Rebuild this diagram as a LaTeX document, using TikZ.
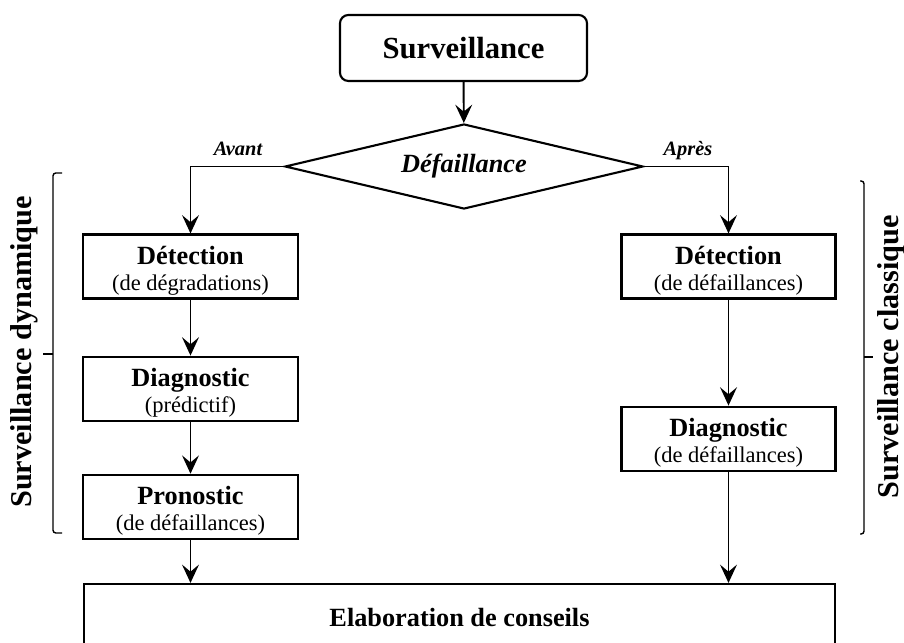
\documentclass[tikz,border=0pt]{standalone}
\usepackage{fontspec}
\setmainfont{Liberation Serif}
\usetikzlibrary{positioning,shapes.geometric,arrows.meta}

\newcommand{\headfont}{\fontsize{18.7pt}{18.5pt}\selectfont\bfseries}
\newcommand{\subfont}{\fontsize{16pt}{18.5pt}\selectfont}
\newcommand{\steptitle}[1]{{\headfont\rule{0pt}{19pt}#1}}

\tikzset{
  stepbox/.style={draw, line width=1.5pt, minimum width=5.375cm, minimum height=1.6cm,
    align=center, inner sep=2pt, font=\subfont},
  startbox/.style={draw, line width=1.5pt, rounded corners=6pt, minimum width=6.175cm,
    minimum height=1.65cm, font=\fontsize{21.8pt}{24pt}\selectfont\bfseries},
  endbox/.style={draw, line width=1.5pt, minimum width=18.775cm, minimum height=1.7cm,
    font=\headfont},
  decision/.style={diamond, draw, line width=1.5pt, aspect=4.2, inner sep=0pt,
    minimum width=8.95cm, minimum height=2.125cm,
    font=\fontsize{18.7pt}{20pt}\selectfont\bfseries\itshape},
  branch/.style={anchor=base, inner sep=0pt, font=\fontsize{14.5pt}{17pt}\selectfont\bfseries\itshape},
  side/.style={rotate=90, inner sep=0pt, font=\fontsize{21.5pt}{24pt}\selectfont\bfseries},
  link/.style={-{Stealth[length=13pt, width=12pt, inset=5pt]}, line width=1.4pt},
  bracket/.style={line width=1pt, rounded corners=2pt},
}

\begin{document}
\begin{tikzpicture}[x=0.025cm, y=-0.025cm]
  \useasboundingbox (0,0) rectangle (904,643);

  \node[startbox] (surv) at (463.5,48) {Surveillance};
  \node[decision] (fail) at (464,166.5) {Défaillance};
  \node[branch] (avant) at (238,156) {Avant};
  \node[branch] (apres) at (688,156) {Après};

  % before failure
  \node[stepbox] (det1) at (190.5,266.5) {\steptitle{Détection}\\(de dégradations)};
  \node[stepbox, below=1.4cm of det1] (diag1) {\steptitle{Diagnostic}\\(prédictif)};
  \node[stepbox, below=1.3cm of diag1] (prono) {\steptitle{Pronostic}\\(de défaillances)};

  % after failure
  \node[stepbox, minimum width=5.35cm] (det2) at (728.5,266.5) {\steptitle{Détection}\\(de défaillances)};
  \node[stepbox, minimum width=5.35cm, below=2.65cm of det2] (diag2) {\steptitle{Diagnostic}\\(de défaillances)};

  \node[endbox] (advice) at (459.5,618) {Elaboration de conseils};

  \node[side] (dyn) at (24,352) {Surveillance dynamique};
  \node[side] (cla) at (891,357) {Surveillance classique};

  \draw[link] (surv) -- (fail);
  \draw[link] (fail.west) -| (det1);
  \draw[link] (fail.east) -| (det2);
  \draw[link] (det1) -- (diag1);
  \draw[link] (diag1) -- (prono);
  \draw[link] (det2) -- (diag2);
  \draw[link] (prono) -- (prono |- advice.north);
  \draw[link] (diag2) -- (diag2 |- advice.north);

  % brackets
  \draw[bracket] (62,173) -| (53,533) -- (62,533);
  \draw[bracket] (53,354) -- (43,354);
  \draw[bracket] (860,181) -| (864,534) -- (860,534);
  \draw[bracket] (864,357) -- (873,357);
\end{tikzpicture}
\end{document}
